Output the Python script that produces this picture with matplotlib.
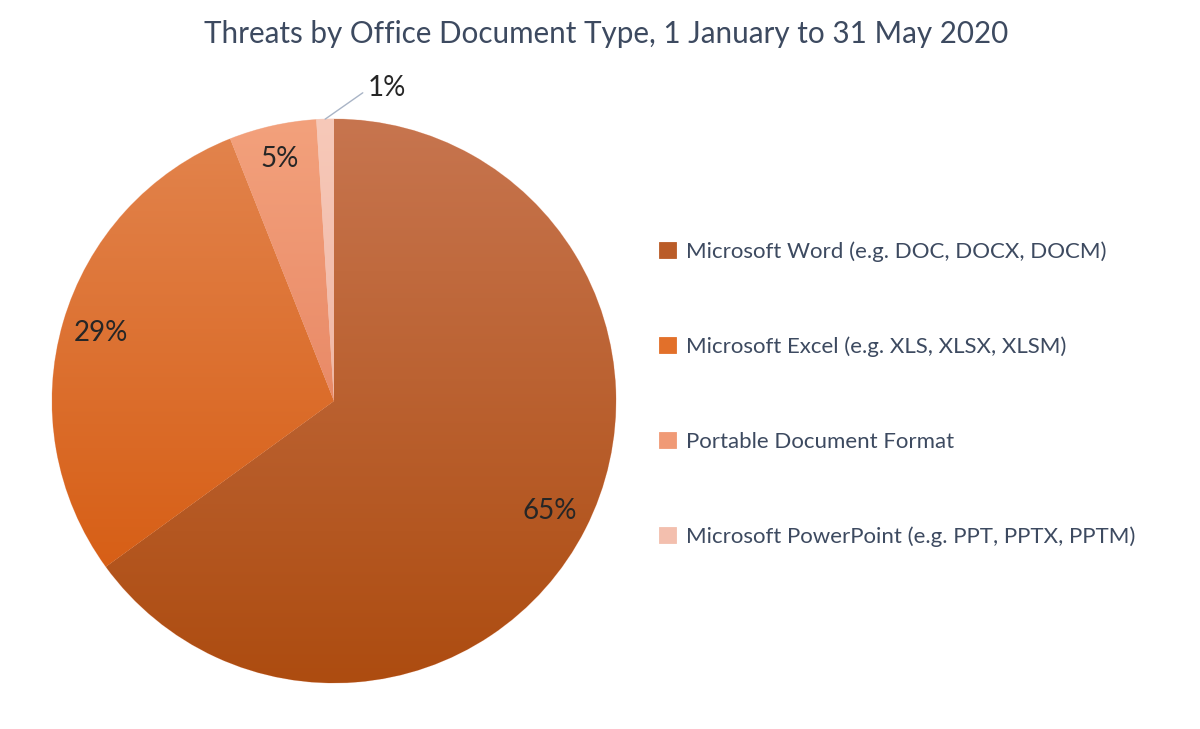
import numpy as np
import matplotlib
matplotlib.use('Agg')
import matplotlib.pyplot as plt
from matplotlib.colors import LinearSegmentedColormap

plt.rcParams['font.family'] = ['Lato', 'DejaVu Sans']

title = 'Threats by Office Document Type, 1 January to 31 May 2020'
labels = ['Microsoft Word (e.g. DOC, DOCX, DOCM)',
          'Microsoft Excel (e.g. XLS, XLSX, XLSM)',
          'Portable Document Format',
          'Microsoft PowerPoint (e.g. PPT, PPTX, PPTM)']
shares = [65, 29, 5, 1]

# gradient top/bottom colour for each slice
top_cols = ['#C7754F', '#E2834C', '#F3A17C', '#F7C9B9']
bot_cols = ['#AD4C10', '#D75F16', '#E98A67', '#F0B7A5']
mid_cols = ['#BA5C28', '#E2702A', '#F09A76', '#F3BFAE']

text_col = '#3D4A60'

fig = plt.figure(figsize=(12, 7.29), dpi=100)
fig.text(0.505, 0.954, title, ha='center', va='center', fontsize=21.3, color=text_col)

ax = fig.add_axes([334 / 1200 - 0.235, 1 - 401 / 729 - 282 / 729, 0.47, 564 / 729])
wedges, _ = ax.pie(shares, startangle=90, counterclock=False, radius=1,
                   colors=mid_cols, wedgeprops=dict(edgecolor='#F6D3C4', linewidth=0.6))

grad = np.linspace(0, 1, 256).reshape(-1, 1)
for w, c0, c1 in zip(wedges, top_cols, bot_cols):
    t = np.radians(np.linspace(w.theta1, w.theta2, 100))
    xs = np.r_[0, np.cos(t)]
    ys = np.r_[0, np.sin(t)]
    cmap = LinearSegmentedColormap.from_list('g', [c0, c1])
    im = ax.imshow(grad, cmap=cmap, aspect='auto', origin='upper',
                   extent=[xs.min(), xs.max(), ys.min(), ys.max()], zorder=w.get_zorder() + 0.1)
    im.set_clip_path(w)

ax.set_xlim(-1.0, 1.0)
ax.set_ylim(-1.0, 1.0)
ax.set_aspect('equal')
ax.axis('off')

# percentage labels
dist = [0.86, 0.86, 0.88]
for w, s, d in zip(wedges[:3], shares[:3], dist):
    a = np.radians((w.theta1 + w.theta2) / 2)
    ax.text(d * np.cos(a), d * np.sin(a), f'{s}%', ha='center', va='center',
            fontsize=20, color='#262626', zorder=5)

w = wedges[3]
a = np.radians((w.theta1 + w.theta2) / 2)
ax.annotate(f'{shares[3]}%', xy=(np.cos(a), np.sin(a)), xytext=(0.12, 1.11),
            ha='left', va='center', fontsize=20, color='#262626',
            arrowprops=dict(arrowstyle='-', color='#A9B4C6', lw=1,
                            connectionstyle='angle,angleA=0,angleB=35,rad=0',
                            shrinkA=2, shrinkB=0))

leg = fig.legend(wedges, labels, loc='upper left', bbox_to_anchor=(639 / 1200, 1 - 221 / 729),
                 frameon=False, fontsize=16, labelcolor=text_col, handlelength=0.75,
                 handleheight=0.75, handletextpad=0.45, labelspacing=3.36)
for h in leg.legend_handles:
    h.set_edgecolor(h.get_facecolor())

fig.savefig('out.png', dpi=100, facecolor='white')
